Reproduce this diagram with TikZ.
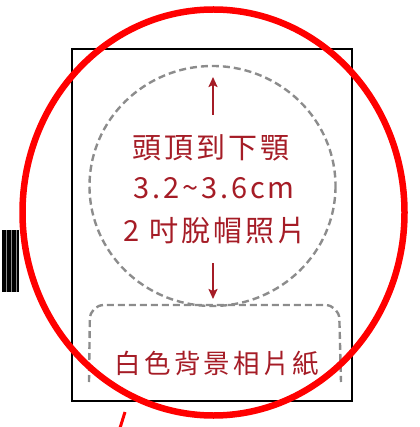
\documentclass[tikz,border=0pt]{standalone}
\usepackage{fontspec}
\newfontfamily\cjkwide[LetterSpace=10]{Noto Sans CJK TC}
\newfontfamily\cjkwider[LetterSpace=12]{Noto Sans CJK TC}
\usetikzlibrary{arrows.meta}
\definecolor{inkred}{RGB}{165,28,38}
\definecolor{dashgray}{RGB}{140,140,140}
\definecolor{ringred}{RGB}{255,0,0}

\begin{document}
\begin{tikzpicture}[x=1pt,y=-1pt,>={Stealth[length=10pt,width=9pt,inset=2pt]},
		frame/.style={draw=black,line width=2.5pt},
		guide/.style={draw=dashgray,line width=2.4pt,dash pattern=on 7pt off 4pt},
		label/.style={text=inkred,inner sep=0pt,font=\cjkwide\fontsize{29}{34}\selectfont},
		small label/.style={label,font=\cjkwider\fontsize{26.5}{30}\selectfont},
		pointer/.style={->,draw=inkred,line width=2.2pt},
		ring/.style={draw=ringred,line width=6.5pt}]
		\useasboundingbox (0,0) rectangle (419,427);
		
		\fill[black] (2,230) rectangle (19,292);
		\draw[dashgray,line width=1pt] (6.5,230) -- (6.5,292) (11.5,230) -- (11.5,292) (16.5,230) -- (16.5,292);
		
		\draw[frame] (72,49) rectangle (352,401);
		\draw[guide] (212.5,186) ellipse (123 and 120);
		\draw[guide,rounded corners=14pt] (89,382) -- (90,305) -- (339,305) -- (341,382);
		
		\node[label]       (heightline) at (211,148) {頭頂到下顎};
		\node[label]       (sizeline)   at (214,188) {3.2\char"7E 3.6cm};
		\node[label]       (photoline)  at (215,231) {2 吋脫帽照片};
		\node[small label] (paperline)  at (217,363) {白色背景相片紙};
		
		\coordinate (upfoot)   at (213,115);
		\coordinate (crown)    at (213,77);
		\coordinate (downfoot) at (213,263);
		\coordinate (chin)     at (213,299);
		\draw[pointer] (upfoot) -- (crown);
		\draw[pointer] (downfoot) -- (chin);
		
		\draw[ring] (213.5,212.5) ellipse (191 and 203);
		\coordinate (tickend) at (120,428);
		\coordinate (tickstart) at (125,412);
		\draw[ringred,line width=3pt] (tickstart) -- (tickend);
		\end{tikzpicture}
\end{document}
